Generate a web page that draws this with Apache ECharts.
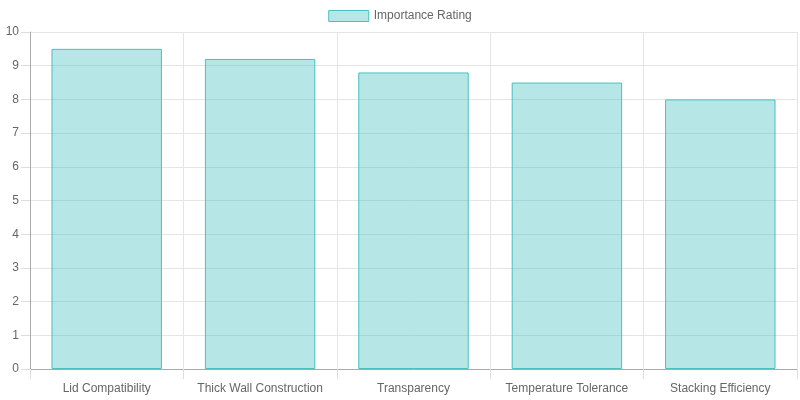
<!DOCTYPE html>
<html>
<head>
<meta charset="utf-8">
<script src="https://cdn.jsdelivr.net/npm/echarts@6/dist/echarts.min.js"></script>
<style>
  html, body { margin: 0; padding: 0; background: #fff; }
  #chart { width: 800px; height: 400px; }
</style>
</head>
<body>
<div id="chart"></div>
<script>
var categories = ['Lid Compatibility', 'Thick Wall Construction', 'Transparency', 'Temperature Tolerance', 'Stacking Efficiency'];
var ratings = [9.5, 9.2, 8.8, 8.5, 8.0];

var chart = echarts.init(document.getElementById('chart'), null, { renderer: 'canvas' });
var font = '"Liberation Sans", Arial, sans-serif';
chart.setOption({
  animation: false,
  textStyle: { fontFamily: font },
  legend: {
    top: 5,
    left: 'center',
    icon: 'rect',
    itemWidth: 40,
    itemHeight: 11,
    itemGap: 10,
    itemStyle: { borderWidth: 1 },
    textStyle: { color: '#666', fontSize: 12, fontFamily: font },
    data: ['Importance Rating']
  },
  grid: { left: 30, right: 3, top: 32, bottom: 31, containLabel: false },
  xAxis: {
    type: 'category',
    data: categories,
    axisLine: { lineStyle: { color: '#aaa' } },
    axisTick: { show: true, interval: 0, length: 10, alignWithLabel: false, lineStyle: { color: '#ddd' } },
    axisLabel: { color: '#666', fontSize: 12, margin: 14, interval: 0, fontFamily: font },
    splitLine: { show: true, interval: 0, lineStyle: { color: '#e5e5e5' } }
  },
  yAxis: {
    type: 'value',
    min: 0,
    max: 10,
    interval: 1,
    axisLine: { show: true, lineStyle: { color: '#aaa' } },
    axisTick: { show: true, length: 9, lineStyle: { color: '#ddd' } },
    axisLabel: { color: '#666', fontSize: 12, margin: 11, fontFamily: font },
    splitLine: { show: true, lineStyle: { color: '#e5e5e5' } }
  },
  series: [{
    name: 'Importance Rating',
    type: 'bar',
    data: ratings,
    barWidth: '72%',
    itemStyle: {
      color: 'rgba(75, 192, 192, 0.4)',
      borderColor: 'rgb(75, 192, 192)',
      borderWidth: 1
    }
  }]
});
window.addEventListener('resize', function() { chart.resize(); });
</script>
</body>
</html>
